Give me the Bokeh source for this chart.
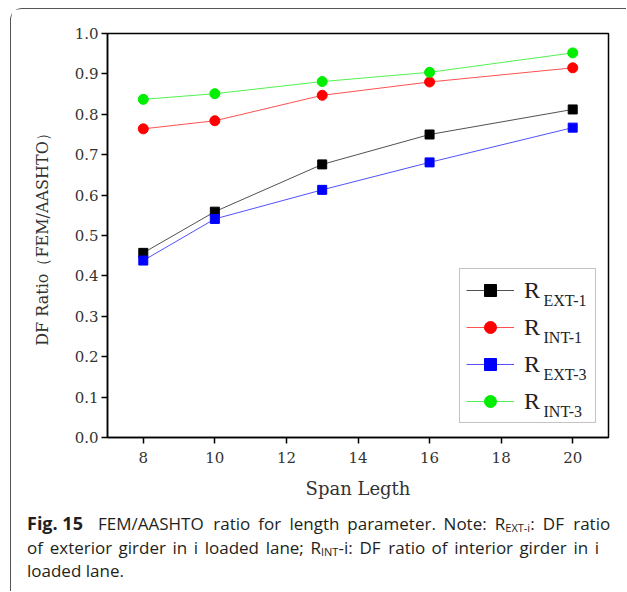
from bokeh.plotting import figure
from bokeh.layouts import column
from bokeh.models import (Legend, LegendItem, Label, FixedTicker,
                          Range1d, CustomJSTickFormatter)
from bokeh.embed import file_html
from bokeh.resources import INLINE

# ---- data ----
span = [8, 10, 13, 16, 20]
r_ext1 = [0.457, 0.559, 0.676, 0.750, 0.812]
r_int1 = [0.764, 0.784, 0.847, 0.880, 0.915]
r_ext3 = [0.438, 0.541, 0.613, 0.681, 0.767]
r_int3 = [0.837, 0.851, 0.881, 0.904, 0.952]

series_names = ["EXT-1", "INT-1", "EXT-3", "INT-3"]
x_ticks = [8, 10, 12, 14, 16, 18, 20]
y_ticks = [0.0, 0.1, 0.2, 0.3, 0.4, 0.5, 0.6, 0.7, 0.8, 0.9, 1.0]
x_label = "Span Legth"
y_label = "DF Ratio（FEM/AASHTO）"

cap_bold = "Fig. 15"
cap_line1 = [[("FEM/AASHTO", 0)], [("ratio", 0)], [("for", 0)], [("length", 0)],
             [("parameter.", 0)], [("Note:", 0)], [("R", 0), ("EXT-i", 1), (":", 0)],
             [("DF", 0)], [("ratio", 0)]]
cap_line2 = [[("of", 0)], [("exterior", 0)], [("girder", 0)], [("in", 0)], [("i", 0)],
             [("loaded", 0)], [("lane;", 0)], [("R", 0), ("INT", 1), ("-i:", 0)],
             [("DF", 0)], [("ratio", 0)], [("of", 0)], [("interior", 0)],
             [("girder", 0)], [("in", 0)], [("i", 0)]]
cap_line3 = "loaded lane."

# page geometry (canvas origin sits inside the rounded frame)
OX, OY = 11.5, 9.5
FL, FR, FT, FB = 107, 608, 33, 437
CW = 615
CH1 = 500
CH2 = 82

p = figure(width=CW, height=CH1, output_backend="svg", toolbar_location=None,
           x_range=Range1d(7, 21), y_range=Range1d(0, 1.0),
           min_border_left=round(FL - OX), min_border_right=round(OX + CW - FR),
           min_border_top=round(FT - OY), min_border_bottom=round(OY + CH1 - FB))
p.frame_align = False
p.background_fill_color = "white"
p.border_fill_color = "white"
p.outline_line_color = "black"
p.outline_line_width = 1.5
p.xgrid.visible = False
p.ygrid.visible = False

serif = "DejaVu Serif"
for ax in (p.xaxis[0], p.yaxis[0]):
    ax.axis_line_width = 1.5
    ax.axis_line_color = "black"
    ax.major_tick_line_color = "black"
    ax.major_tick_line_width = 1.5
    ax.major_tick_in = 0
    ax.major_tick_out = 6
    ax.minor_tick_line_color = None
    ax.major_label_text_font = serif
    ax.major_label_text_font_size = "15px"
    ax.major_label_text_color = "#333333"
    ax.axis_label_text_font = serif
    ax.axis_label_text_font_style = "normal"
    ax.axis_label_text_color = "#333333"

p.xaxis[0].ticker = FixedTicker(ticks=x_ticks)
p.yaxis[0].ticker = FixedTicker(ticks=y_ticks)
p.yaxis[0].formatter = CustomJSTickFormatter(code="return tick.toFixed(1);")
p.xaxis[0].axis_label = x_label
p.yaxis[0].axis_label = y_label
p.xaxis[0].axis_label_text_font_size = "18px"
p.yaxis[0].axis_label_text_font_size = "16px"
p.xaxis[0].major_label_standoff = 8
p.xaxis[0].axis_label_standoff = 12
p.yaxis[0].major_label_standoff = 3
p.yaxis[0].axis_label_standoff = 20

line_cols = ["#333333", "#ff3333", "#3333ff", "#33ee33"]
mark_cols = ["#000000", "#ff0000", "#0000ff", "#00ee00"]
markers = ["square", "circle", "square", "circle"]
sizes = [9, 10, 9, 10]
data = [r_ext1, r_int1, r_ext3, r_int3]

items = []
for i in range(4):
    ln = p.line(span, data[i], line_color=line_cols[i], line_width=1, line_alpha=0.85)
    sc = p.scatter(span, data[i], marker=markers[i], size=sizes[i],
                   fill_color=mark_cols[i], line_color=mark_cols[i])
    items.append(LegendItem(label="R", renderers=[ln, sc]))

# subscripts of the legend labels (drawn under a transparent legend box)
for i, name in enumerate(series_names):
    p.add_layout(Label(x=436, y=137 - 37 * i, x_units="screen", y_units="screen",
                       text=name, text_font="Liberation Serif", text_font_size="16px",
                       text_color="#222222", text_baseline="alphabetic"))

leg = Legend(items=items, location=(352, 14), margin=0, padding=6, spacing=7,
             glyph_width=48, glyph_height=30, label_height=30, label_width=65,
             label_standoff=10, label_text_font="Liberation Serif",
             label_text_font_size="24px", label_text_color="#222222",
             border_line_color="#888888", border_line_width=1,
             background_fill_color="white", background_fill_alpha=0)
p.add_layout(leg)

# ---- caption figure ----
c = figure(width=CW, height=CH2, output_backend="svg", toolbar_location=None,
           x_range=Range1d(0, 1), y_range=Range1d(0, 1),
           x_axis_type=None, y_axis_type=None, min_border=0)
c.frame_align = False
c.outline_line_color = None
c.background_fill_color = "white"
c.border_fill_color = "white"
c.xgrid.visible = False
c.ygrid.visible = False

cap_font = "Open Sans"
MAIN = 17.0
SUB = 11.0
cap_color = "#231f20"
cap_bottom = OY + CH1 + CH2

EM = {"A": .633, "D": .737, "E": .556, "F": .575, "H": .752, "I": .279, "M": .907,
      "N": .765, "O": .779, "R": .617, "S": .549, "T": .556, "X": .582,
      "a": .556, "d": .614, "e": .561, "f": .35, "g": .548, "h": .613, "i": .253,
      "l": .253, "m": .925, "n": .613, "o": .602, "p": .602, "r": .408, "t": .344,
      "x": .523, "/": .371, ".": .266, ":": .266, ";": .266, "-": .322, " ": .26}

def tw(text, size):
    return sum(EM.get(ch, .55) for ch in text) * size

def cap(text, x, base, size=MAIN, style="normal"):
    c.add_layout(Label(x=x - OX, y=cap_bottom - base, x_units="screen", y_units="screen",
                       text=text, text_font=cap_font, text_font_size=f"{size}px",
                       text_font_style=style, text_color=cap_color,
                       text_baseline="alphabetic", text_align="left"))

def justify(words, x0, x1, base):
    widths = [sum(tw(t, SUB if k else MAIN) for t, k in w) for w in words]
    gap = (x1 - x0 - sum(widths)) / (len(words) - 1)
    x = x0
    for w, wd in zip(words, widths):
        xx = x
        for t, k in w:
            cap(t, xx, base + (4 if k else 0), size=SUB if k else MAIN)
            xx += tw(t, SUB if k else MAIN)
        x += wd + gap

cap(cap_bold, 27, 523, size=18, style="bold")
justify(cap_line1, 98, 610, 523)
justify(cap_line2, 27, 599, 547)
cap(cap_line3, 27, 570)

page = column(p, c, spacing=0, margin=(8, 0, 0, 10),
              styles={"border-left": "1.5px solid #555555",
                      "border-top": "1.5px solid #555555",
                      "border-top-left-radius": "12px"})

open("out.html", "w").write(file_html(page, INLINE))
